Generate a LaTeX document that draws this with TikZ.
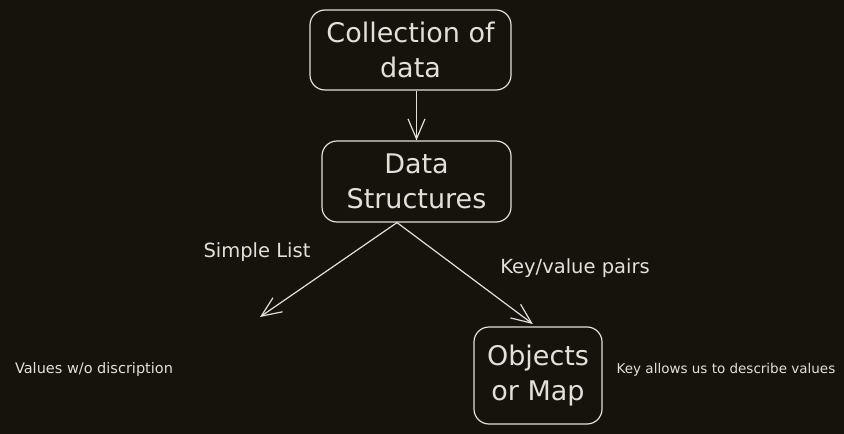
\documentclass[tikz,border=0pt]{standalone}
\usepackage{fontspec}
\setmainfont{DejaVu Sans}
\usetikzlibrary{arrows.meta,positioning}
\definecolor{bgcol}{HTML}{15130A}
\definecolor{inkcol}{HTML}{E2E0D8}
\begin{document}
\begin{tikzpicture}[x=1pt, y=-1pt, inkcol, line width=1.2pt, font=\fontsize{27}{35}\selectfont,
    main/.style = {draw=inkcol, text=inkcol, rounded corners=15pt, align=center, inner sep=0pt},
    lbl/.style = {text=inkcol, font=\fontsize{19.5}{22}\selectfont, inner sep=0pt},
    note/.style = {text=inkcol, font=\fontsize{13.5}{16}\selectfont, inner sep=0pt},
    arr/.style = {-{Straight Barb[length=20pt, width=17pt, line width=1.2pt]}}]
                    \fill[bgcol] (0,0) rectangle (844,434);
                    \node[main, minimum width=201pt, minimum height=80pt] (coll) at (410.5,50) {Collection of\\data};
                    \node[main, minimum width=189pt, minimum height=81pt] (ds) at (416.5,181.5) {Data\\Structures};
                    \node[main, minimum width=128pt, minimum height=97pt] (obj) at (538,375.5) {Objects\\or Map};
                    \coordinate (listend) at (260,317);
                    \node[lbl] (list) at (257,252) {Simple List};
                    \node[lbl] (pairs) at (575,268) {Key/value pairs};
                    \node[note, font=\fontsize{14.5}{16}\selectfont] (vals) at (94,369) {Values w/o discription};
                    \node[note] (keys) at (726,370) {Key allows us to describe values};
                    \draw[arr] (ds.north |- coll.south) -- (ds.north);
                    \draw[arr] ([xshift=-19.5pt]ds.south) -- (listend);
                    \draw[arr, shorten >=4pt] ([xshift=-19.5pt]ds.south) -- ([xshift=-2pt]obj.north);
                \end{tikzpicture}
\end{document}
